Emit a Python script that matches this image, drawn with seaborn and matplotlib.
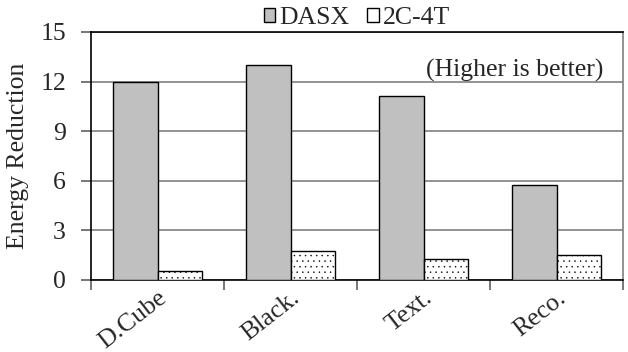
import matplotlib
matplotlib.use("Agg")
import matplotlib.pyplot as plt
import matplotlib.transforms as mtransforms
import seaborn as sns
import pandas as pd

categories = ["D.Cube", "Black.", "Text.", "Reco."]
series = ["DASX", "2C-4T"]
dasx = [12.0, 13.0, 11.13, 5.73]
c2t4 = [0.54, 1.77, 1.25, 1.49]
yticks = [0, 3, 6, 9, 12, 15]

sns.set_theme(style="white")
plt.rcParams["font.family"] = ["Liberation Serif", "DejaVu Serif"]
plt.rcParams["hatch.linewidth"] = 0.3
plt.rcParams["hatch.color"] = "#404040"

FS = 18.5

df = pd.DataFrame({
    "cat": categories * 2,
    "series": [series[0]] * 4 + [series[1]] * 4,
    "val": dasx + c2t4,
})

fig = plt.figure(figsize=(6.28, 3.52), dpi=100)
ax = fig.add_axes([91 / 628, 1 - 280 / 352, 532 / 628, 248 / 352])

sns.barplot(data=df, x="cat", y="val", hue="series", order=categories,
            hue_order=series, palette=["#c0c0c0", "white"], width=0.667,
            edgecolor="black", linewidth=1.0, saturation=1, ax=ax, zorder=3)

for bar in ax.containers[1]:
    bar.set_hatch("...")

ax.set_ylim(0, 15)
ax.set_xlim(-0.5, 3.5)
ax.set_yticks(yticks)
ax.set_yticklabels([str(t) for t in yticks], fontsize=FS)
ax.yaxis.grid(True, color="#808080", linewidth=1.2, zorder=0)
ax.set_axisbelow(True)

# category ticks sit at the group boundaries
ax.set_xticks([-0.5, 0.5, 1.5, 2.5, 3.5])
ax.set_xticklabels([])
ax.set_xticks([0, 1, 2, 3], minor=True)
ax.set_xticklabels(categories, minor=True, rotation=38, ha="right",
                   rotation_mode="anchor", fontsize=FS)
ax.tick_params(axis="x", which="major", direction="out", length=7,
               width=1.2, color="#606060", bottom=True)
ax.tick_params(axis="x", which="minor", length=0, pad=5)
ax.tick_params(axis="y", direction="out", length=7, width=1.2,
               color="#606060", left=True, pad=11)
shift = mtransforms.ScaledTranslation(0, 0, fig.dpi_scale_trans)
for lbl in ax.get_xticklabels(minor=True):
    lbl.set_transform(lbl.get_transform() + shift)

ax.set_xlabel("")
ax.set_ylabel("Energy Reduction", fontsize=FS, labelpad=8)

for side in ["left", "bottom", "top"]:
    ax.spines[side].set_color("black")
    ax.spines[side].set_linewidth(1.2)
ax.spines["right"].set_color("#808080")
ax.spines["right"].set_linewidth(1.2)

ax.text(3.35, 12.7, "(Higher is better)", ha="right", va="center",
        fontsize=FS)

handles, labels = ax.get_legend_handles_labels()
ax.legend(handles, labels, loc="lower center", bbox_to_anchor=(0.5, 1.0),
          ncol=2, frameon=False, fontsize=FS, handlelength=0.45,
          handleheight=0.45, handletextpad=0.15, columnspacing=0.7,
          borderaxespad=0.0, borderpad=0.1)

fig.savefig("out.png", dpi=100)
